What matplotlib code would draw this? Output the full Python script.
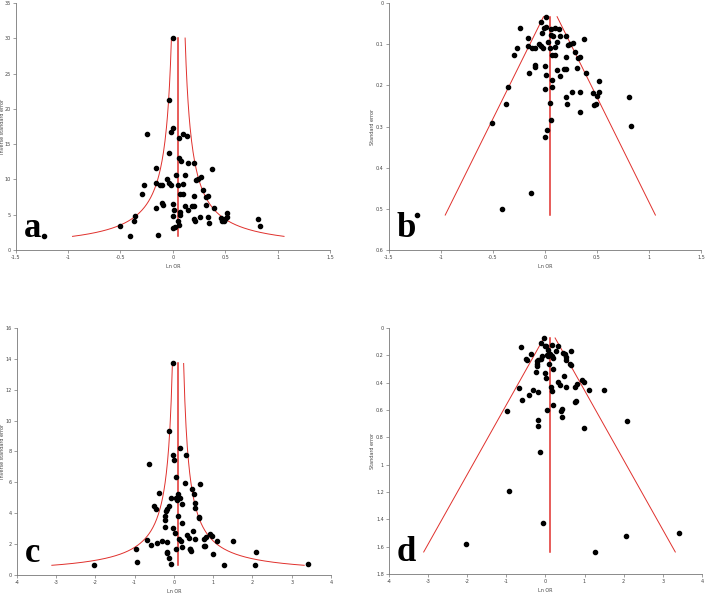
import numpy as np
from matplotlib import pyplot as plt

# 数据1 (a, b): ln OR 和标准误
lnor_1 = [0.006, -0.035, -0.243, -0.013, 0.006, 0.058, 0.096, 0.131, -0.032, 0.058,
          0.077, 0.205, 0.141, 0.377, -0.16, 0.115, 0.029, 0.269, 0.243, -0.272,
          -0.058, -0.035, -0.122, -0.16, -0.019, 0.045, 0.096, -0.099, 0.221, -0.297,
          0.07, 0.099, 0.291, 0.339, 0.32, 0.198, -0.003, -0.099, -0.096, 0.115,
          0.179, 0.205, 0.313, -0.157, 0.397, 0.144, 0.01, 0.064, 0.521, -0.358,
          0.064, 0.003, 0.262, 0.339, 0.518, 0.46, 0.5, 0.809, 0.201, -0.374,
          0.051, 0.214, 0.467, 0.49, 0.342, 0.058, -0.505, 0.828, 0.016, 0.0,
          -0.138, -0.409, -1.228]
se_1 = [0.0333, 0.047, 0.061, 0.060, 0.058, 0.063, 0.061, 0.062, 0.073, 0.077,
        0.079, 0.081, 0.081, 0.087, 0.086, 0.094, 0.094, 0.097, 0.099, 0.109,
        0.100, 0.105, 0.109, 0.105, 0.109, 0.109, 0.107, 0.109, 0.101, 0.126,
        0.126, 0.126, 0.118, 0.130, 0.134, 0.131, 0.152, 0.150, 0.156, 0.162,
        0.160, 0.161, 0.158, 0.169, 0.169, 0.178, 0.176, 0.186, 0.190, 0.205,
        0.204, 0.209, 0.215, 0.216, 0.216, 0.219, 0.225, 0.229, 0.228, 0.246,
        0.243, 0.246, 0.247, 0.246, 0.265, 0.284, 0.291, 0.298, 0.308, 0.325,
        0.461, 0.501, 0.516]

# 数据2 (c, d)
lnor_2 = [-0.026, -0.119, -0.63, -0.017, 0.009, 0.162, 0.315, 0.06, 0.272, 0.46,
          0.664, 0.502, -0.366, -0.085, 0.043, 0.111, 0.162, 0.077, 0.196, 0.527,
          0.527, -0.494, -0.46, -0.119, -0.179, -0.221, -0.204, 0.094, 0.63, 0.647,
          -0.221, 0.196, -0.238, -0.017, 0.485, 0.026, 0.323, 0.928, 0.979, 0.817,
          0.383, 0.766, 0.136, 0.536, -0.672, 1.106, 1.506, -0.306, 0.17, -0.179,
          -0.417, -0.587, 0.791, 0.757, 0.204, 0.417, 0.409, -0.97, 0.051, 0.426,
          -0.187, 2.085, -0.187, 0.996, -0.136, -0.936, -0.068, 3.404, 2.06, -2.026,
          1.268]
se_2 = [0.073, 0.107, 0.139, 0.129, 0.134, 0.122, 0.129, 0.158, 0.168, 0.180,
        0.170, 0.192, 0.188, 0.202, 0.200, 0.192, 0.202, 0.207, 0.219, 0.214,
        0.231, 0.224, 0.234, 0.226, 0.236, 0.261, 0.241, 0.261, 0.265, 0.273,
        0.280, 0.297, 0.324, 0.329, 0.353, 0.368, 0.392, 0.382, 0.397, 0.412,
        0.419, 0.431, 0.431, 0.431, 0.441, 0.451, 0.451, 0.455, 0.463, 0.468,
        0.487, 0.528, 0.533, 0.538, 0.563, 0.592, 0.606, 0.606, 0.602, 0.650,
        0.672, 0.684, 0.714, 0.733, 0.908, 1.196, 1.425, 1.498, 1.52, 1.581,
        1.639]

pooled_1 = 0.052
pooled_2 = 0.106
se_range_1 = (0.0333, 0.515)
se_range_2 = (0.073, 1.639)

plt.figure(figsize=(7.06, 5.94), dpi=100)
red = '#e0302c'


def style(ax, xticks, yticks, ylabels, ylab, letter, ylab_x):
    for s in ['top', 'right']:
        ax.spines[s].set_visible(False)
    for s in ['left', 'bottom']:
        ax.spines[s].set_color('#777777')
        ax.spines[s].set_linewidth(0.6)
    ax.set_xticks(xticks)
    ax.set_xticklabels(['%g' % t for t in xticks])
    ax.set_yticks(yticks)
    ax.set_yticklabels(ylabels)
    ax.tick_params(labelsize=3.5, length=2, width=0.5, colors='#777777',
                   labelcolor='#444444', pad=1.5)
    ax.set_xlabel('Ln OR', fontsize=3.5, color='#444444', labelpad=3)
    ax.set_ylabel(ylab, fontsize=3.5, color='#444444')
    ax.yaxis.set_label_coords(ylab_x, 0.5)
    ax.text(0.025, 0.02, letter, transform=ax.transAxes, fontsize=25,
            fontweight='bold', family='Liberation Serif', va='bottom')


def inverse_panel(rect, lnor, se, pooled, se_range, xlim, ylim, xticks, yticks, letter, ylab_x):
    ax = plt.axes(rect)
    s = np.linspace(se_range[0], se_range[1], 200)
    ax.plot(pooled - 1.96 * s, 1 / s, color=red, lw=0.7)
    ax.plot(pooled + 1.96 * s, 1 / s, color=red, lw=0.7)
    ax.plot([pooled, pooled], [1 / se_range[1], 1 / se_range[0]], color=red, lw=1.1)
    ax.scatter(lnor, 1 / np.array(se), s=9, color='black', zorder=3)
    ax.set_xlim(xlim)
    ax.set_ylim(ylim)
    style(ax, xticks, yticks, ['%g' % t for t in yticks], 'Inverse standard error', letter, ylab_x)


def se_panel(rect, lnor, se, pooled, se_range, xlim, ylim, xticks, yticks, letter, ylab_x):
    ax = plt.axes(rect)
    s = np.array(se_range)
    ax.plot(pooled - 1.96 * s, s, color=red, lw=0.7)
    ax.plot(pooled + 1.96 * s, s, color=red, lw=0.7)
    ax.plot([pooled, pooled], s, color=red, lw=1.1)
    ax.scatter(lnor, se, s=9, color='black', zorder=3)
    ax.set_xlim(xlim)
    ax.set_ylim(ylim[1], ylim[0])
    style(ax, xticks, yticks, ['%g' % round(t, 1) for t in yticks], 'Standard error', letter, ylab_x)


inverse_panel([0.0222, 0.579, 0.4452, 0.416], lnor_1, se_1, pooled_1, se_range_1,
              (-1.5, 1.5), (0, 35), np.arange(-1.5, 1.51, 0.5), np.arange(0, 36, 5), 'a', -0.033)
se_panel([0.5506, 0.579, 0.4424, 0.416], lnor_1, se_1, pooled_1, se_range_1,
         (-1.5, 1.5), (0, 0.6), np.arange(-1.5, 1.51, 0.5), np.arange(0, 0.61, 0.1), 'b', -0.045)
inverse_panel([0.0237, 0.0325, 0.4451, 0.4153], lnor_2, se_2, pooled_2, se_range_2,
              (-4, 4), (0, 16), np.arange(-4, 5, 1), np.arange(0, 17, 2), 'c', -0.036)
se_panel([0.5506, 0.0337, 0.4437, 0.4141], lnor_2, se_2, pooled_2, se_range_2,
         (-4, 4), (0, 1.8), np.arange(-4, 5, 1), np.arange(0, 1.81, 0.2), 'd', -0.045)

plt.savefig('out.png', dpi=100)
